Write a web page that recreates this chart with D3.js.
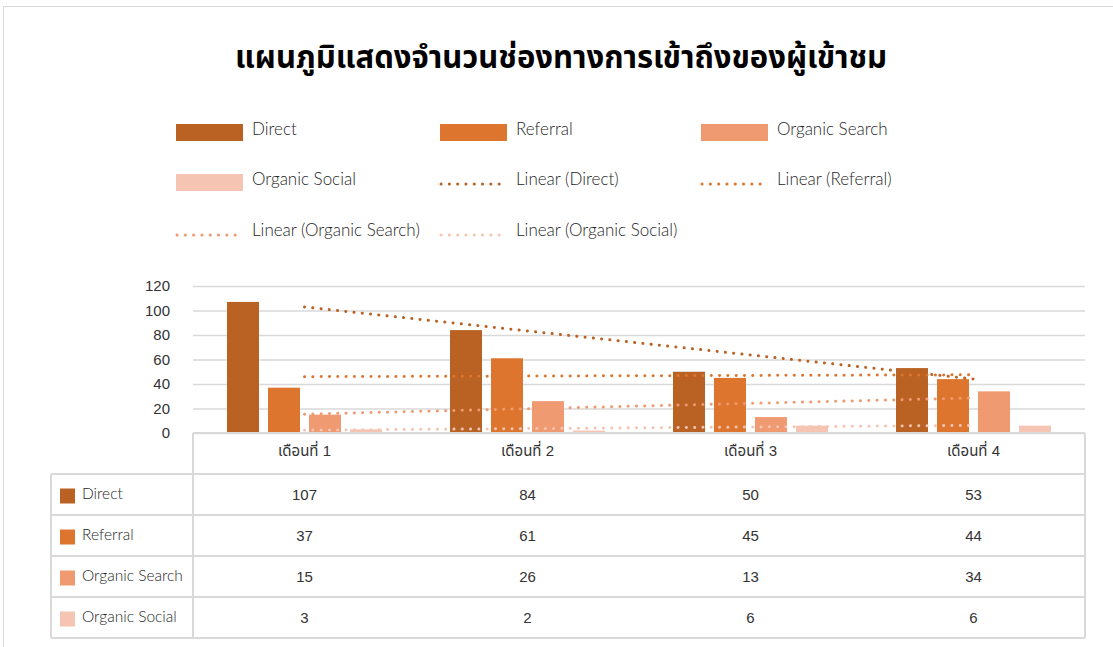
<!DOCTYPE html>
<html lang="th">
<head>
<meta charset="UTF-8">
<title>แผนภูมิแสดงจำนวนช่องทางการเข้าถึงของผู้เข้าชม</title>
<script src="https://d3js.org/d3.v7.min.js"></script>
<style>
  body { margin: 0; background: #fff; }
  .title { font-family: "Noto Sans Thai", "Noto Sans", sans-serif; font-weight: bold; font-size: 31px; fill: #000; }
  .legend text { font-family: Lato, "Noto Sans", sans-serif; font-size: 17px; font-weight: 300; fill: #262626; }
  .rowName { font-family: Lato, "Noto Sans", sans-serif; font-size: 15.5px; font-weight: 300; fill: #262626; }
  .tick text, .val, .cat { font-family: "Liberation Sans", Arial, "Noto Sans Thai", sans-serif; font-size: 15px; fill: #333; }
</style>
</head>
<body>
<div id="chart"></div>
<script>
// data
const months = ["เดือนที่ 1", "เดือนที่ 2", "เดือนที่ 3", "เดือนที่ 4"];
const seriesNames = ["Direct", "Referral", "Organic Search", "Organic Social"];
const direct = [107, 84, 50, 53];
const referral = [37, 61, 45, 44];
const organicSearch = [15, 26, 13, 34];
const organicSocial = [3, 2, 6, 6];
const yTicks = [0, 20, 40, 60, 80, 100, 120];
const colors = ["#B96224", "#DD752E", "#F09A72", "#F6C4B2"];

const seriesValues = [direct, referral, organicSearch, organicSocial];
const series = seriesNames.map((name, i) => ({ name: name, values: seriesValues[i], color: colors[i] }));

const W = 1113, H = 647;
const plotLeft = 193, plotRight = 1085, plotTop = 286, plotBottom = 433;
const rowH = 41;

const svg = d3.select("#chart").append("svg")
    .attr("width", W)
    .attr("height", H);

// chart area border
svg.append("rect")
    .attr("x", 3.5).attr("y", 6.5)
    .attr("width", 1200).attr("height", 700)
    .attr("fill", "#fff")
    .attr("stroke", "#d9d9d9");

svg.append("text")
    .attr("class", "title")
    .attr("x", 561).attr("y", 68)
    .attr("text-anchor", "middle")
    .text("แผนภูมิแสดงจำนวนช่องทางการเข้าถึงของผู้เข้าชม");

const x0 = d3.scaleBand()
    .domain(months)
    .range([plotLeft, plotRight])
    .paddingInner(0.2646)
    .paddingOuter(0.1323);

const x1 = d3.scaleBand()
    .domain(seriesNames)
    .range([0, x0.bandwidth()])
    .paddingInner(0.22)
    .paddingOuter(0.11);

const y = d3.scaleLinear()
    .domain([0, 120])
    .range([plotBottom, plotTop]);

// gridlines + y axis labels
const yAxis = d3.axisLeft(y).tickValues(yTicks).tickSize(-(plotRight - plotLeft)).tickPadding(23);
const gy = svg.append("g")
    .attr("transform", "translate(" + plotLeft + ",0)")
    .call(yAxis);
gy.select(".domain").remove();
gy.selectAll(".tick line").attr("stroke", "#d9d9d9").attr("stroke-width", 1.5);
gy.selectAll(".tick text").attr("fill", "#333");

// bars
const groups = svg.append("g").selectAll("g")
    .data(series)
    .enter().append("g")
    .attr("fill", d => d.color);

groups.selectAll("rect")
    .data(d => d.values.map((v, i) => ({ name: d.name, month: months[i], value: v })))
    .enter().append("rect")
    .attr("x", d => x0(d.month) + x1(d.name))
    .attr("y", d => y(d.value))
    .attr("width", x1.bandwidth())
    .attr("height", d => plotBottom - y(d.value));

// linear trendlines (least squares over month index)
function linearFit(vals) {
    const xs = vals.map((v, i) => i + 1);
    const mx = d3.mean(xs), my = d3.mean(vals);
    const slope = d3.sum(xs, (xv, i) => (xv - mx) * (vals[i] - my)) / d3.sum(xs, xv => (xv - mx) * (xv - mx));
    return xv => my + slope * (xv - mx);
}

const xc = m => x0(m) + x0.bandwidth() / 2;
const line = d3.line().x(d => d[0]).y(d => d[1]);

series.forEach(s => {
    const f = linearFit(s.values);
    const pts = [[xc(months[0]), y(f(1))], [xc(months[months.length - 1]), y(f(months.length))]];
    svg.append("path")
        .attr("d", line(pts))
        .attr("fill", "none")
        .attr("stroke", s.color)
        .attr("stroke-width", 3)
        .attr("stroke-linecap", "round")
        .attr("stroke-dasharray", "0.1 8.2");
});

// data table
const tableTop = plotBottom;
const nRows = series.length;
const grid = svg.append("g").attr("stroke", "#d9d9d9").attr("stroke-width", 2);
grid.append("line").attr("x1", plotLeft).attr("x2", plotRight).attr("y1", tableTop).attr("y2", tableTop);
for (let r = 1; r <= nRows + 1; r++) {
    grid.append("line").attr("x1", 51).attr("x2", plotRight)
        .attr("y1", tableTop + r * rowH).attr("y2", tableTop + r * rowH);
}
grid.append("line").attr("x1", plotLeft).attr("x2", plotLeft).attr("y1", tableTop).attr("y2", tableTop + (nRows + 1) * rowH);
grid.append("line").attr("x1", plotRight).attr("x2", plotRight).attr("y1", tableTop).attr("y2", tableTop + (nRows + 1) * rowH);
grid.append("line").attr("x1", 51).attr("x2", 51).attr("y1", tableTop + rowH).attr("y2", tableTop + (nRows + 1) * rowH);

svg.append("g").selectAll("text")
    .data(months)
    .enter().append("text")
    .attr("class", "cat")
    .attr("x", d => xc(d))
    .attr("y", tableTop + 23)
    .attr("text-anchor", "middle")
    .text(d => d);

series.forEach((s, r) => {
    const cy = tableTop + (r + 1) * rowH + rowH / 2;
    svg.append("rect")
        .attr("x", 60).attr("y", cy - 6)
        .attr("width", 15).attr("height", 15)
        .attr("fill", s.color);
    svg.append("text")
        .attr("class", "rowName")
        .attr("x", 82).attr("y", cy + 4)
        .text(s.name);
    s.values.forEach((v, i) => {
        svg.append("text")
            .attr("class", "val")
            .attr("x", xc(months[i]))
            .attr("y", cy + 5)
            .attr("text-anchor", "middle")
            .text(v);
    });
});

// legend
const legendItems = series.map(s => ({ label: s.name, color: s.color, type: "bar" }))
    .concat(series.map(s => ({ label: "Linear (" + s.name + ")", color: s.color, type: "trend" })));
const legCols = [176, 440, 701];
const legRows = [132, 182, 233];

const leg = svg.append("g").attr("class", "legend");
legendItems.forEach((d, i) => {
    const lx = legCols[i % 3], ly = legRows[Math.floor(i / 3)];
    if (d.type === "bar") {
        leg.append("rect")
            .attr("x", lx).attr("y", ly - 8)
            .attr("width", 67).attr("height", 17)
            .attr("fill", d.color);
    } else {
        leg.append("line")
            .attr("x1", lx + 1).attr("x2", lx + 67)
            .attr("y1", ly + 2).attr("y2", ly + 2)
            .attr("stroke", d.color)
            .attr("stroke-width", 3)
            .attr("stroke-linecap", "round")
            .attr("stroke-dasharray", "0.1 8.2");
    }
    leg.append("text")
        .attr("x", lx + 76).attr("y", ly + 3)
        .text(d.label);
});
</script>
</body>
</html>
